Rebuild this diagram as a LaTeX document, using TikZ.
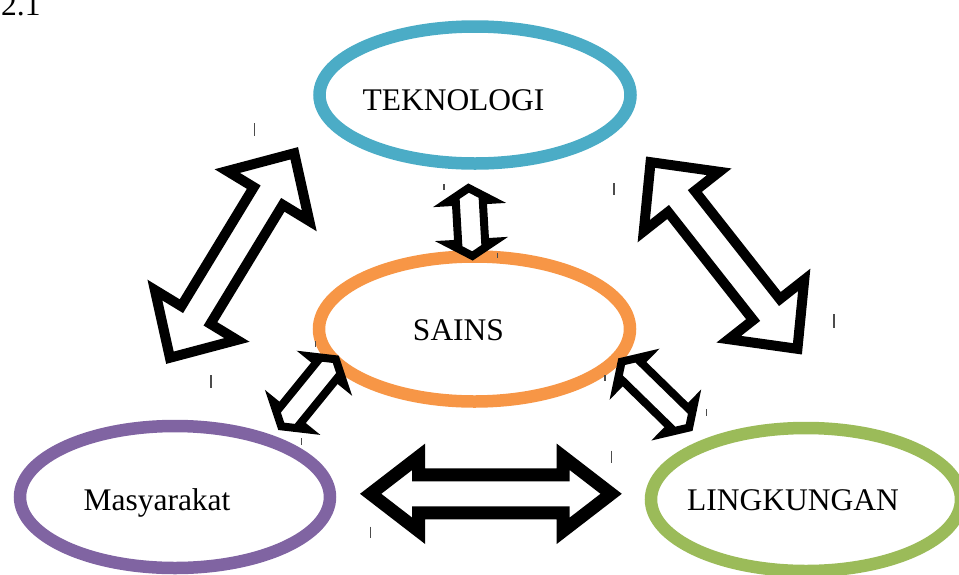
\documentclass[tikz,border=0pt]{standalone}
\usepackage{fontspec}
\setmainfont{Liberation Serif}
\usetikzlibrary{shapes.geometric}
\definecolor{tekcol}{HTML}{4BACC6}
\definecolor{saincol}{HTML}{F79646}
\definecolor{masycol}{HTML}{8064A2}
\definecolor{lingcol}{HTML}{9BBB59}
\tikzset{
  ringbox/.style={ellipse, draw, line width=12.5, inner sep=0pt},
  blockarrow/.style={draw=black, fill=white, line join=miter, miter limit=10},
  tickmark/.style={draw=black!70, line width=1.2},
  wordlabel/.style={font=\fontsize{31.5}{36}\selectfont, inner sep=0pt, anchor=base}
}
% #1,#2 centre; #3 angle; #4 length; #5 head length; #6 head half-width; #7 shaft half-width; #8 line width
\newcommand\blockarr[8]{%
  \begin{scope}[shift={(#1,#2)},rotate=#3]
    \draw[blockarrow,line width=#8]
      ({#4/2},0) -- ({#4/2-#5},#6) -- ({#4/2-#5},#7) -- ({-#4/2+#5},#7)
      -- ({-#4/2+#5},#6) -- ({-#4/2},0) -- ({-#4/2+#5},-#6) -- ({-#4/2+#5},-#7)
      -- ({#4/2-#5},-#7) -- ({#4/2-#5},-#6) -- cycle;
  \end{scope}}
\begin{document}
\begin{tikzpicture}[x=1pt,y=-1pt]
  \useasboundingbox (0,0) rectangle (959,574);
  \clip (0,0) rectangle (959,574);
  % rings
  \node[ringbox, draw=tekcol, minimum width=311pt, minimum height=137pt] (tek) at (475,95) {};
  \node[ringbox, draw=saincol, minimum width=311pt, minimum height=145pt] (sains) at (474.5,329) {};
  \node[ringbox, draw=masycol, minimum width=310pt, minimum height=142pt] (masy) at (175,497) {};
  \node[ringbox, draw=lingcol, minimum width=310pt, minimum height=143pt] (ling) at (806,499.5) {};
  % block arrows
  \blockarr{232.1}{255.5}{58.7}{239.3}{50}{48}{17}{10}
  \blockarr{724}{255.5}{-51.8}{237.5}{50}{48}{17}{10}
  \blockarr{470.5}{222}{93.3}{68}{13}{22}{13.5}{8}
  \blockarr{308.5}{392.8}{50.9}{86.4}{14}{22}{13}{8}
  \blockarr{655.4}{394.6}{-44.3}{94.3}{14}{22}{13}{8}
  \blockarr{490.9}{493.8}{0}{240.5}{48}{37}{19}{13}
  % texts
  \node[wordlabel] (tektext) at (453.5,110) {TEKNOLOGI};
  \node[wordlabel] (saintext) at (458.5,340) {SAINS};
  \node[wordlabel] (masytext) at (157,510) {Masyarakat};
  \node[wordlabel] (lingtext) at (793,510) {LINGKUNGAN};
  \node[wordlabel, anchor=base west] (num) at (1,15) {2.1};
  % small marks
  \draw[tickmark] (254.3,123) -- (254.3,136);
  \draw[tickmark] (444,184) -- (444,190);
  \draw[tickmark] (614,183) -- (614,195);
  \draw[tickmark] (497.7,252.7) -- (497.7,258.3);
  \draw[tickmark] (834,314) -- (834,328);
  \draw[tickmark] (315.7,341) -- (315.7,347);
  \draw[tickmark] (211,375) -- (211,388);
  \draw[tickmark] (605,375) -- (605,381);
  \draw[tickmark] (301.7,438) -- (301.7,445);
  \draw[tickmark] (706.7,409) -- (706.7,416);
  \draw[tickmark] (611.7,450.7) -- (611.7,462.7);
  \draw[tickmark] (370.7,526.7) -- (370.7,538.3);
\end{tikzpicture}
\end{document}
